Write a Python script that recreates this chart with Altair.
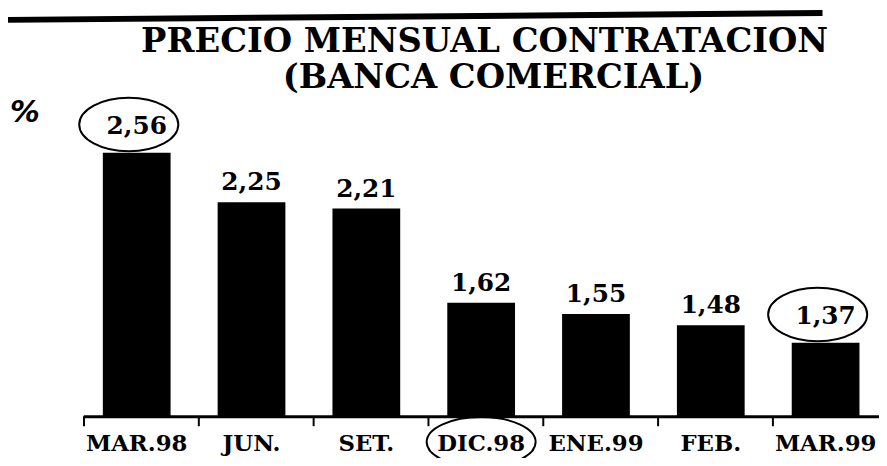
import altair as alt
import pandas as pd

# ---- data ----
categories = ["MAR.98", "JUN.", "SET.", "DIC.98", "ENE.99", "FEB.", "MAR.99"]
values = [2.56, 2.25, 2.21, 1.62, 1.55, 1.48, 1.37]
value_labels = ["2,56", "2,25", "2,21", "1,62", "1,55", "1,48", "1,37"]
circled_values = ["MAR.98", "MAR.99"]      # value labels drawn inside an ellipse
circled_categories = ["DIC.98"]            # axis label drawn inside an ellipse
title_lines = ["PRECIO MENSUAL CONTRATACION", "(BANCA COMERCIAL)"]
unit_label = ["%"]
y_base = 0.91
y_top = 3.0

df = pd.DataFrame({
    "mes": categories,
    "valor": values,
    "etiqueta": value_labels,
    "marcado": [c in circled_values for c in categories],
})

W, H = 803, 337
SERIF = "DejaVu Serif"

xscale = alt.Scale(domain=categories, paddingInner=0.41, paddingOuter=0.17)
xaxis = alt.Axis(
    title=None, labelAngle=0, ticks=False,
    domainColor="black", domainWidth=3,
    labelFont=SERIF, labelFontWeight="bold", labelFontSize=23,
    labelColor="black", labelPadding=16,
)
x = alt.X("mes:N", sort=categories, scale=xscale, axis=xaxis)
y = alt.Y("valor:Q", scale=alt.Scale(domain=[y_base, y_top], zero=False, nice=False), axis=None)

base = alt.Chart(df).encode(x=x)

bars = base.mark_bar(color="black").encode(y=y, y2=alt.datum(y_base))

# tick marks between the categories
ticks = alt.Chart(df).mark_rule(color="black", strokeWidth=2, xOffset=-19).encode(
    x=alt.X("mes:N", sort=categories, scale=xscale, bandPosition=0, axis=xaxis),
    y=alt.value(H), y2=alt.value(H + 10))

txt_style = dict(font=SERIF, fontWeight="bold", fontSize=25, baseline="alphabetic", color="black")
text_plain = base.transform_filter("!datum.marcado").mark_text(dy=-12, **txt_style).encode(
    y=y, text="etiqueta:N")
text_circ = base.transform_filter("datum.marcado").mark_text(dy=-19, **txt_style).encode(
    y=y, text="etiqueta:N")

ellipse_up = "M-1.16,-0.57 A1,0.54 0 1,0 0.84,-0.57 A1,0.54 0 1,0 -1.16,-0.57"
ell_values = base.transform_filter("datum.marcado").mark_point(
    shape=ellipse_up, size=10000, filled=False, color="black", strokeWidth=2, opacity=1
).encode(y=y)

ellipse_c = "M-1,0 A1,0.46 0 1,0 1,0 A1,0.46 0 1,0 -1,0"
ell_cat = base.transform_filter(
    alt.FieldOneOfPredicate(field="mes", oneOf=circled_categories)
).mark_point(
    shape=ellipse_c, size=12100, filled=False, color="black", strokeWidth=2, opacity=1
).encode(y=alt.value(H + 26))

one = pd.DataFrame({"t1": [title_lines[0]], "t2": [title_lines[1]], "u": unit_label})

title1 = alt.Chart(one).mark_text(
    font=SERIF, fontWeight="bold", fontSize=34, baseline="alphabetic", color="black"
).encode(x=alt.value(405), y=alt.value(-31), text="t1:N")
title2 = alt.Chart(one).mark_text(
    font=SERIF, fontWeight="bold", fontSize=34, baseline="alphabetic", color="black"
).encode(x=alt.value(414), y=alt.value(6), text="t2:N")
unit = alt.Chart(one).mark_text(
    font="DejaVu Sans", fontWeight="bold", fontStyle="italic", fontSize=30, color="black"
).encode(x=alt.value(-59), y=alt.value(31), text="u:N")

top_rule = alt.Chart(one).mark_rule(color="black", strokeWidth=6).encode(
    x=alt.value(-84), x2=alt.value(746), y=alt.value(-63), y2=alt.value(-70))

chart = alt.layer(
    bars, ticks, text_plain, text_circ, ell_values, ell_cat, title1, title2, unit, top_rule
).properties(
    width=W, height=H,
    autosize=alt.AutoSizeParams(type="none"),
    padding={"left": 76, "top": 73, "right": 0, "bottom": 40},
    background="white",
).configure_view(stroke=None)

chart.save("out.html", embed_options={"renderer": "svg", "actions": False})
